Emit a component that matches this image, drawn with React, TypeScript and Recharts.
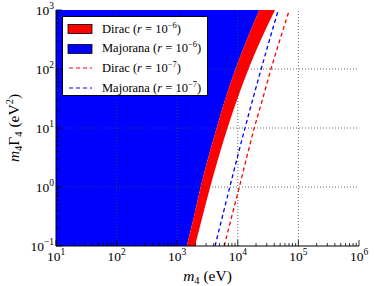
import React from 'react'
import { ComposedChart, Area, Line, XAxis, YAxis, ReferenceLine, Label } from 'recharts'

// rows are sampled in m4*Gamma4 (y), curves give m4 (x) in eV
const yValues = [0.1, 0.316, 1, 3.16, 10, 31.6, 100, 316, 1000]
const diracR6Lower = [1435, 1894, 2442, 3261, 4485, 6266, 9162, 14185, 22636]
const diracR6Upper = [1967, 2615, 3504, 4803, 6761, 9886, 15020, 24140, 41110]
const majoranaR7 = [4210, 5570, 7380, 9810, 13150, 17810, 24330, 33480, 46600]
const diracR7 = [5980, 7930, 10600, 14000, 18700, 25800, 35300, 49700, 70800]

const xMajor = [10, 100, 1000, 10000, 100000, 1000000]
const yMajor = [0.1, 1, 10, 100, 1000]
const minorSteps = [2, 3, 4, 5, 6, 7, 8, 9]

const withMinors = (major: number[]) => {
  const out: number[] = []
  major.forEach((m, i) => {
    out.push(m)
    if (i < major.length - 1) minorSteps.forEach((k) => out.push(+(m * k).toPrecision(3)))
  })
  return out
}
const xTicks = withMinors(xMajor)
const yTicks = withMinors(yMajor)

const legendItems = [
  { name: 'Dirac', exp: '−6', color: '#ff0000', kind: 'fill' },
  { name: 'Majorana', exp: '−6', color: '#0000ff', kind: 'fill' },
  { name: 'Dirac', exp: '−7', color: '#ff0000', kind: 'dash' },
  { name: 'Majorana', exp: '−7', color: '#0000ff', kind: 'dash' },
]

const data = yValues.map((y, i) => ({
  y,
  majoranaFill: [10, diracR6Lower[i]],
  diracFill: [diracR6Lower[i], diracR6Upper[i]],
  majoranaR7: majoranaR7[i],
  diracR7: diracR7[i],
}))

const FONT = '"Liberation Serif", "Times New Roman", serif'
const isMajor = (v: number, list: number[]) => list.some((m) => Math.abs(m - v) / m < 1e-6)
const expOf = (v: number) => {
  const e = Math.round(Math.log10(v))
  return e < 0 ? '−' + Math.abs(e) : String(e)
}

const XTick = (props: any) => {
  const { x, y, payload, side } = props
  const major = isMajor(payload.value, xMajor)
  const len = major ? 6 : 3
  const dir = side === 'top' ? 1 : -1
  return (
    <g>
      <line x1={x} x2={x} y1={y} y2={y + dir * len} stroke="#000" strokeWidth={0.8} />
      {major && side === 'bottom' && (
        <text x={x} y={y + 15} textAnchor="middle" fontFamily={FONT} fontSize={13.5} fill="#000">
          10<tspan dy={-6} fontSize={9.5}>{expOf(payload.value)}</tspan>
        </text>
      )}
    </g>
  )
}

const YTick = (props: any) => {
  const { x, y, payload, side } = props
  const major = isMajor(payload.value, yMajor)
  const len = major ? 6 : 3
  const dir = side === 'left' ? 1 : -1
  return (
    <g>
      <line x1={x} x2={x + dir * len} y1={y} y2={y} stroke="#000" strokeWidth={0.8} />
      {major && side === 'left' && (
        <text x={x - 2} y={y + 5} textAnchor="end" fontFamily={FONT} fontSize={13.5} fill="#000">
          10<tspan dy={-6} fontSize={9.5}>{expOf(payload.value)}</tspan>
        </text>
      )}
    </g>
  )
}

const XLabel = (props: any) => {
  const { x, y, width } = props.viewBox
  return (
    <text x={x + width / 2} y={y + 35} textAnchor="middle" fontFamily={FONT} fontSize={15.5} fill="#000">
      <tspan fontStyle="italic">m</tspan>
      <tspan dy={3} fontSize={10.5}>4</tspan>
      <tspan dy={-3}> (eV)</tspan>
    </text>
  )
}

const YLabel = (props: any) => {
  const { y, height } = props.viewBox
  const cx = 19
  const cy = y + height / 2
  return (
    <text x={cx} y={cy} transform={`rotate(-90 ${cx} ${cy})`} textAnchor="middle" fontFamily={FONT} fontSize={15.5} fill="#000">
      <tspan fontStyle="italic">m</tspan>
      <tspan dy={3} fontSize={10.5}>4</tspan>
      <tspan dy={-3}>Γ</tspan>
      <tspan dy={3} fontSize={10.5}>4</tspan>
      <tspan dy={-3}> (eV</tspan>
      <tspan dy={-6} fontSize={10.5}>2</tspan>
      <tspan dy={6}>)</tspan>
    </text>
  )
}

const legendRow = (item: (typeof legendItems)[number], i: number) => (
  <div key={i} style={{ display: 'flex', alignItems: 'center', height: 19.8 }}>
    <svg width={30} height={12} style={{ flex: 'none' }}>
      {item.kind === 'fill' ? (
        <rect x={3} y={1.5} width={24} height={9} fill={item.color} stroke="#000" strokeWidth={0.8} />
      ) : (
        <line x1={4} x2={27} y1={6} y2={6} stroke={item.color} strokeWidth={1.2} strokeDasharray="4 3" />
      )}
    </svg>
    <span style={{ marginLeft: 7, whiteSpace: 'nowrap' }}>
      {item.name} (<i>r</i> = 10<sup style={{ fontSize: 8.5, verticalAlign: 5, lineHeight: 0 }}>{item.exp}</sup>)
    </span>
  </div>
)

export default function App() {
  return (
    <div style={{ position: 'absolute', left: 0, top: 0, width: 374, height: 286, background: '#fff' }}>
      <ComposedChart
        width={374}
        height={286}
        data={data}
        layout="vertical"
        margin={{ top: 10, right: 15, bottom: 0, left: 0 }}
      >
        <XAxis
          xAxisId="bottom"
          type="number"
          scale="log"
          domain={[10, 1000000]}
          ticks={xTicks}
          allowDataOverflow
          height={40}
          tickSize={0}
          tickMargin={0}
          interval={0}
          stroke="#000"
          tick={<XTick side="bottom" />}
        >
          <Label content={<XLabel />} />
        </XAxis>
        <XAxis
          xAxisId="top"
          orientation="top"
          type="number"
          scale="log"
          domain={[10, 1000000]}
          ticks={xTicks}
          allowDataOverflow
          height={0}
          tickSize={0}
          tickMargin={0}
          interval={0}
          stroke="#000"
          tick={<XTick side="top" />}
        />
        <YAxis
          yAxisId="left"
          dataKey="y"
          type="number"
          scale="log"
          domain={[0.1, 1000]}
          ticks={yTicks}
          reversed
          allowDataOverflow
          width={56}
          tickSize={0}
          tickMargin={0}
          interval={0}
          stroke="#000"
          tick={<YTick side="left" />}
        >
          <Label content={<YLabel />} />
        </YAxis>
        <YAxis
          yAxisId="right"
          orientation="right"
          dataKey="y"
          type="number"
          scale="log"
          domain={[0.1, 1000]}
          ticks={yTicks}
          reversed
          allowDataOverflow
          width={0}
          tickSize={0}
          tickMargin={0}
          interval={0}
          stroke="#000"
          tick={<YTick side="right" />}
        />
        <Area
          xAxisId="bottom"
          yAxisId="left"
          dataKey="majoranaFill"
          type="monotone"
          fill="#0000ff"
          fillOpacity={1}
          stroke="none"
          isAnimationActive={false}
        />
        <Area
          xAxisId="bottom"
          yAxisId="left"
          dataKey="diracFill"
          type="monotone"
          fill="#ff0000"
          fillOpacity={1}
          stroke="none"
          isAnimationActive={false}
        />
        <Line
          xAxisId="bottom"
          yAxisId="left"
          dataKey="majoranaR7"
          type="monotone"
          stroke="#0000ff"
          strokeWidth={1.3}
          strokeDasharray="4 3"
          dot={false}
          isAnimationActive={false}
        />
        <Line
          xAxisId="bottom"
          yAxisId="left"
          dataKey="diracR7"
          type="monotone"
          stroke="#ff0000"
          strokeWidth={1.3}
          strokeDasharray="4 3"
          dot={false}
          isAnimationActive={false}
        />
        {xMajor.slice(1, -1).map((v) => (
          <ReferenceLine key={'x' + v} xAxisId="bottom" yAxisId="left" x={v} stroke="#444" strokeWidth={0.8} strokeDasharray="1 2" />
        ))}
        {yMajor.slice(1, -1).map((v) => (
          <ReferenceLine key={'y' + v} xAxisId="bottom" yAxisId="left" y={v} stroke="#444" strokeWidth={0.8} strokeDasharray="1 2" />
        ))}
      </ComposedChart>
      <div
        style={{
          position: 'absolute',
          left: 62,
          top: 16,
          width: 146,
          height: 80,
          border: '1px solid #000',
          background: '#fff',
          boxSizing: 'border-box',
          padding: '2px 0 0 2px',
          fontFamily: FONT,
          fontSize: 12.5,
          lineHeight: 1,
          color: '#000',
        }}
      >
        {legendItems.map(legendRow)}
      </div>
    </div>
  )
}
